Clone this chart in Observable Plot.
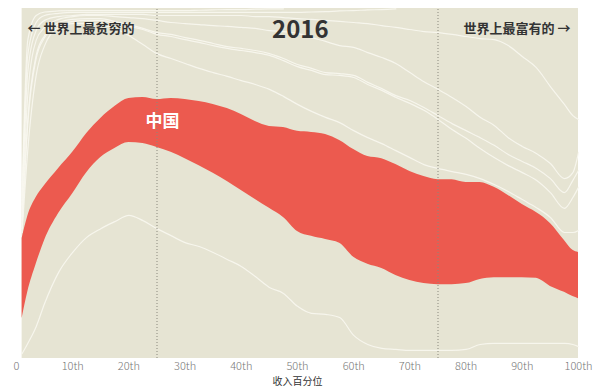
<!DOCTYPE html>
<html>
<head>
<meta charset="utf-8">
<script src="https://cdn.jsdelivr.net/npm/d3@7"></script>
<script src="https://cdn.jsdelivr.net/npm/@observablehq/plot@0.6"></script>
<style>
  html, body { margin: 0; padding: 0; background: #ffffff; }
  #chart svg { display: block; }
</style>
</head>
<body>
<div id="chart"></div>
<script>
// World income percentile (x) and cumulative population share of the stacked regions (y, %)
const percentiles = [1,2,3.5,5,7.5,10,12.5,15,17.5,20,22.5,25,27.5,30,32.5,35,37.5,40,42.5,45,47.5,50,52.5,55,57.5,60,62.5,65,67.5,70,72.5,75,77.5,80,82.5,85,87.5,90,92.5,95,97.5,99,100];

// boundary lines (white) between stacked regions, bottom to top
const line1 = [1.4,4.3,9.1,15.7,24.6,30.3,34.6,37.1,39.1,40.9,39.4,37.1,35.1,33.1,32.0,30.3,28.3,26.3,23.4,20.3,18.6,14.9,12.9,12.6,11.7,6.6,4.0,2.9,2.6,2.3,2.3,2.3,2.3,2.6,4.0,4.3,4.3,4.3,4.3,4.3,4.3,4.0,3.4];
// China band (lower and upper edge)
const chinaLow = [11.4,18.9,26.9,33.7,41.4,47.1,53.1,57.4,60.0,61.7,61.4,60.3,58.9,57.1,55.1,52.9,50.6,48.0,45.4,42.9,40.3,36.3,34.9,34.0,32.9,28.9,26.9,25.7,23.7,22.3,21.4,21.1,21.1,21.4,22.6,23.1,23.1,23.1,22.9,20.6,18.9,17.7,17.1];
const chinaHigh = [34.3,40.6,46.0,49.4,54.3,58.9,64.3,68.6,72.0,74.3,74.6,74.0,74.3,74.0,73.4,72.6,71.4,69.7,67.7,66.3,66.0,64.9,64.6,64.0,62.3,59.7,57.7,57.1,55.4,53.4,52.0,51.1,51.1,50.3,50.3,48.9,46.6,44.0,41.7,38.6,33.7,30.9,30.3];
const line4 = [36.0,59.4,80.9,89.4,94.6,95.7,95.7,95.4,94.3,92.3,89.7,87.1,85.7,84.3,82.9,81.7,80.6,79.4,78.3,76.9,74.9,72.6,70.6,68.9,67.4,65.1,63.1,61.4,59.4,57.4,55.4,54.3,53.4,52.6,51.4,49.7,47.7,45.4,43.1,40.3,36.0,36.0,36.6];
const line5 = [37.1,66.9,85.7,91.7,95.4,96.3,96.6,96.6,95.7,94.9,94.0,92.6,92.0,91.1,90.3,89.4,88.6,88.0,87.4,86.6,85.1,83.4,82.3,81.1,80.9,80.3,78.3,76.6,74.6,72.9,70.9,68.3,65.4,62.9,60.0,57.4,55.1,53.1,50.9,47.4,42.9,46.0,48.9];
const line6 = [37.7,68.0,86.6,92.3,96.0,96.9,97.1,97.1,96.3,95.4,94.3,93.1,92.6,91.7,90.9,90.0,89.1,88.6,88.0,87.1,85.7,84.0,82.9,81.7,81.4,80.9,78.9,77.1,75.1,73.7,71.7,69.4,67.1,65.1,63.1,60.9,58.3,56.3,54.3,51.4,47.4,50.9,53.7];
const line7 = [39.4,75.1,90.9,94.6,96.9,97.7,98.0,98.0,97.7,97.4,97.1,96.6,96.0,95.7,95.4,95.1,94.9,94.6,94.3,93.7,93.4,92.9,91.7,90.6,89.4,88.9,87.4,86.0,84.3,81.7,79.1,76.9,74.6,72.0,68.9,66.6,63.1,60.6,58.6,55.7,51.4,53.1,58.9];
const line8 = [41.7,81.7,93.7,96.6,97.7,98.0,98.3,98.3,98.3,98.3,98.3,98.0,98.0,98.0,98.0,98.0,98.0,98.0,97.7,97.7,97.4,97.1,96.9,96.6,96.3,96.0,95.7,95.1,94.6,94.0,93.4,93.1,92.6,92.0,91.4,91.1,89.4,86.3,83.1,77.7,72.6,69.4,68.3];
const line9 = [43.7,86.6,96.0,98.0,98.6,98.9,98.9,98.9,98.9,98.9,98.9,98.9,98.9,98.9,98.9,98.9,98.9,98.9,98.9,98.9,98.9,98.9,99.0,99.1,99.3,99.4,99.6,99.7,99.9,100,100,100,100,100,100,100,100,100,100,100,100,100,100];
const line10 = [46.6,90.9,98.0,99.0,99.3,99.4,99.4,99.4,99.4,99.4,99.4,99.4,99.4,99.4,99.5,99.6,99.7,99.7,99.8,99.9,99.9,100,100,100,100,100,100,100,100,100,100,100,100,100,100,100,100,100,100,100,100,100,100];

const tickValues = [0,10,20,30,40,50,60,70,80,90,100];
const tickLabels = ["0","10th","20th","30th","40th","50th","60th","70th","80th","90th","100th"];
const quartileMarks = [25,75];

const title = "2016";
const leftNote = "← 世界上最贫穷的";
const rightNote = "世界上最富有的 →";
const chinaLabel = "中国";
const xLabel = "收入百分位";

// build tables for the library
const boundaryLines = {line1, line4, line5, line6, line7, line8, line9, line10};
const lineRows = [];
for (const [name, vals] of Object.entries(boundaryLines)) {
  vals.forEach((v, i) => { if (v < 99.95) lineRows.push({s: name, p: percentiles[i], v}); });
}
const chinaRows = percentiles.map((p, i) => ({p, lo: chinaLow[i], hi: chinaHigh[i]}));

const FONT = "'Noto Sans CJK SC', 'Noto Sans', sans-serif";
const BEIGE = "#e6e4d3";
const RED = "#ec5a4f";

const chart = Plot.plot({
  width: 600,
  height: 388,
  marginTop: 8,
  marginBottom: 30,
  marginLeft: 16,
  marginRight: 22,
  style: {fontFamily: FONT, background: "#ffffff"},
  x: {domain: [0, 100]},
  y: {domain: [0, 100], axis: null},
  marks: [
    Plot.rect([{x1: percentiles[0], x2: percentiles[percentiles.length - 1], y1: 0, y2: 100}],
      {x1: "x1", x2: "x2", y1: "y1", y2: "y2", fill: BEIGE}),
    Plot.areaY(chinaRows, {x: "p", y1: "lo", y2: "hi", fill: RED, curve: "monotone-x"}),
    Plot.line(lineRows, {x: "p", y: "v", z: "s", stroke: "#f8f7f0", strokeWidth: 1.2, strokeOpacity: 0.9, curve: "monotone-x"}),
    Plot.ruleX(quartileMarks, {y1: 0, y2: 100, stroke: "#8a887c", strokeWidth: 1, strokeDasharray: "1,2"}),
    Plot.axisX({ticks: tickValues, tickFormat: d => tickLabels[tickValues.indexOf(d)], tickSize: 0, tickPadding: 4, fontSize: 11, fontWeight: 300, fill: "#777", label: null}),
    Plot.text([xLabel], {frameAnchor: "bottom", dy: 23, text: d => d, fontSize: 10, fill: "#333", lineAnchor: "middle"}),
    Plot.text([title], {x: 50.5, frameAnchor: "top", dy: 22, text: d => d, fontSize: 24, fontWeight: "bold", fill: "#333", lineAnchor: "middle"}),
    Plot.text([leftNote], {frameAnchor: "top-left", dx: 11, dy: 20, text: d => d, fontSize: 13, fontWeight: "bold", fill: "#333", textAnchor: "start", lineAnchor: "middle"}),
    Plot.text([rightNote], {frameAnchor: "top-right", dx: -8, dy: 20, text: d => d, fontSize: 13, fontWeight: "bold", fill: "#333", textAnchor: "end", lineAnchor: "middle"}),
    Plot.text([chinaLabel], {x: 26, y: 67.7, text: d => d, fontSize: 17, fontWeight: "bold", fill: "#ffffff"})
  ]
});
document.getElementById("chart").appendChild(chart);
</script>
</body>
</html>
